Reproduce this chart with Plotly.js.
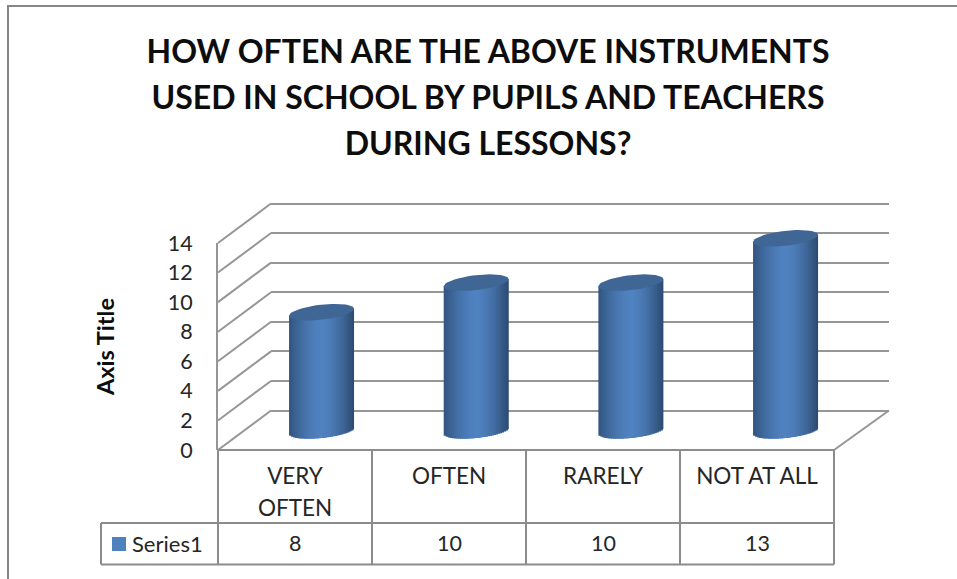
<!DOCTYPE html>
<html>
<head>
<meta charset="utf-8">
<script src="https://cdn.plot.ly/plotly-3.0.1.min.js"></script>
<style>html,body{margin:0;padding:0;background:#fff}#c{width:957px;height:579px}</style>
</head>
<body>
<div id="c"></div>
<script>
// ---- data ----
var categories = ["VERY<br>OFTEN", "OFTEN", "RARELY", "NOT AT ALL"];
var seriesName = "Series1";
var seriesValues = [8, 10, 10, 13];
var yTicks = [0, 2, 4, 6, 8, 10, 12, 14];
var titleLines = ["HOW OFTEN ARE THE ABOVE INSTRUMENTS", "USED IN SCHOOL BY PUPILS AND TEACHERS", "DURING LESSONS?"];

// ---- layout geometry (pixels) ----
var W = 957, H = 579;
var X = function (p) { return p / W; };
var Y = function (p) { return 1 - p / H; };
var FONT = "Lato, Carlito, Calibri, sans-serif";
var GRID = "#969696", LINE = "#8c8c8c", TXT = "#262626", KEY = "#4f81bd";
var FRONT = {x0: 218, x1: 834, y0: 450, y14: 243};
var BACK = {x0: 271, x1: 889, y0: 410.5, y14: 203.5};
var MID = {x0: 244.2, x1: 862.9, y0: 430.5, y14: 223.5};
var pxPerUnitY = (MID.y0 - MID.y14) / 14;
var pxPerUnitX = (MID.x1 - MID.x0) / 4;
var backUnit = (BACK.y0 - BACK.y14) / 14;

// ---- cylinder look ----
var HALF = 32.5, ELL = 7.5, TILT = 3.5, STRIPS = 32;
var CAP = "#3f6695";
function mix(a, b, t) {
  return "rgb(" + a.map(function (v, i) { return Math.round(v + (b[i] - v) * t); }).join(",") + ")";
}
var LEFT = [49, 84, 126], MIDC = [80, 130, 192], RIGHT = [43, 74, 111];
function stripColor(u) {
  return u < 0 ? mix(MIDC, LEFT, Math.pow(-u, 1.6)) : mix(MIDC, RIGHT, Math.pow(u, 1.6));
}

var traces = [];
// back wall (gridlines)
traces.push({type: "scatter", mode: "none", x: [0, 1, 2, 3], y: seriesValues, xaxis: "x", yaxis: "y", showlegend: false, hoverinfo: "skip"});
// the cylinders: overlapping vertical strips of a bar series, shaped at the foot
for (var k = 0; k < STRIPS; k++) {
  var stripPx = 2 * HALF / STRIPS;
  var u = -1 + (k + 0.5) * 2 / STRIPS;
  var s = Math.sqrt(1 - u * u);
  var foot = -(ELL * s - TILT * u) / pxPerUnitY;
  var headAdj = TILT * u / pxPerUnitY;
  traces.push({
    type: "bar", xaxis: "x2", yaxis: "y2",
    x: [0, 1, 2, 3],
    y: seriesValues.map(function (v) { return v + headAdj - foot; }),
    base: foot,
    width: (k === STRIPS - 1 ? stripPx : stripPx + 1.5) / pxPerUnitX,
    offset: (-HALF + k * stripPx) / pxPerUnitX,
    marker: {color: stripColor(u), line: {width: 0}},
    name: seriesName,
    showlegend: false,
    hoverinfo: "skip"
  });
}
// cylinder caps
seriesValues.forEach(function (v, i) {
  var xs = [], ys = [];
  for (var a = 0; a <= 60; a++) {
    var t = a / 60 * 2 * Math.PI;
    xs.push(i + HALF * Math.cos(t) / pxPerUnitX);
    ys.push(v + (TILT * Math.cos(t) + ELL * Math.sin(t)) / pxPerUnitY);
  }
  traces.push({type: "scatter", mode: "lines", x: xs, y: ys, fill: "toself", fillcolor: CAP,
    line: {width: 0, color: CAP}, xaxis: "x2", yaxis: "y2", showlegend: false, hoverinfo: "skip"});
});
// front axis (tick labels, table)
traces.push({type: "scatter", mode: "none", x: [0, 1, 2, 3], y: seriesValues, xaxis: "x3", yaxis: "y3", showlegend: false, hoverinfo: "skip"});

// ---- frame, walls and data-table rules ----
function seg(x0, y0, x1, y1, color, w) {
  return {type: "line", xref: "paper", yref: "paper", x0: X(x0), x1: X(x1), y0: Y(y0), y1: Y(y1),
    line: {color: color, width: w}, layer: "below"};
}
var shapes = [];
shapes.push({type: "rect", xref: "paper", yref: "paper", x0: X(8), x1: 1.02, y0: -0.02, y1: Y(6),
  line: {color: "#868686", width: 2}, fillcolor: "rgba(0,0,0,0)", layer: "below"});
yTicks.forEach(function (v) {
  var f = (FRONT.y0 - FRONT.y14) / 14;
  shapes.push(seg(FRONT.x0, FRONT.y0 - v * f, BACK.x0, BACK.y0 - v * backUnit, GRID, 2));
});
shapes.push(seg(FRONT.x1, FRONT.y0, BACK.x1, BACK.y0, GRID, 2));
var ROW1 = 523, ROW2 = 564.5, LEG = 101;
shapes.push(seg(FRONT.x0, FRONT.y0, FRONT.x1, FRONT.y0, LINE, 2));
shapes.push(seg(LEG, ROW1, FRONT.x1, ROW1, LINE, 2));
shapes.push(seg(LEG, ROW2, FRONT.x1, ROW2, LINE, 2));
shapes.push(seg(LEG, ROW1, LEG, ROW2, LINE, 2));
for (var c = 0; c <= categories.length; c++) {
  var cx = FRONT.x0 + c * (FRONT.x1 - FRONT.x0) / categories.length;
  shapes.push(seg(cx, FRONT.y0, cx, ROW2, LINE, 2));
}
// legend key inside the data table
shapes.push({type: "rect", xref: "paper", yref: "paper", x0: X(112), x1: X(126), y0: Y(551), y1: Y(537),
  line: {width: 0}, fillcolor: KEY, layer: "below"});

// ---- data-table values and series label ----
var annotations = seriesValues.map(function (v, i) {
  return {xref: "x3", yref: "paper", x: i, y: Y(543), text: String(v), showarrow: false,
    xanchor: "center", yanchor: "middle", font: {family: FONT, size: 21.5, color: TXT}};
});
annotations.push({xref: "paper", yref: "paper", x: X(130), y: Y(543), text: seriesName, showarrow: false,
  xanchor: "left", yanchor: "middle", font: {family: FONT, size: 22, color: TXT}});

var span = function (t, size) { return '<span style="font-size:' + size + 'px">' + t + "</span>"; };
var PAD = 0.2; // extra units so the 0 and 14 gridlines are kept
var layout = {
  width: W, height: H,
  margin: {l: 0, r: 0, t: 0, b: 0},
  paper_bgcolor: "#fff", plot_bgcolor: "rgba(0,0,0,0)",
  barmode: "overlay",
  showlegend: false,
  title: {
    text: titleLines.map(function (t) { return span(t, 32); }).join("<br>"),
    x: X(488), xanchor: "center", y: Y(63), yanchor: "top",
    font: {family: FONT, size: 35.4, color: "#0d0d0d", weight: 700}
  },
  xaxis: {domain: [X(BACK.x0), X(BACK.x1)], range: [-0.5, 3.5], visible: false, anchor: "y"},
  yaxis: {domain: [Y(BACK.y0 + PAD * backUnit), Y(BACK.y14 - PAD * backUnit)], range: [-PAD, 14 + PAD], anchor: "x", tickvals: yTicks, showticklabels: false,
    showgrid: true, gridcolor: GRID, gridwidth: 2, zeroline: false, showline: false, ticks: ""},
  xaxis2: {domain: [X(MID.x0), X(MID.x1)], range: [-0.5, 3.5], visible: false, anchor: "y2"},
  yaxis2: {domain: [Y(MID.y0 + pxPerUnitY), Y(MID.y14)], range: [-1, 14], visible: false, anchor: "x2"},
  xaxis3: {domain: [X(FRONT.x0), X(FRONT.x1)], range: [-0.5, 3.5], anchor: "y3", showgrid: false, zeroline: false, showline: false,
    tickmode: "array", tickvals: [0, 1, 2, 3],
    ticktext: categories.map(function (c) { return c.split("<br>").map(function (p) { return span(p, 22.5); }).join("<br>"); }),
    tickangle: 0, ticks: "", ticklabelstandoff: 8, tickfont: {family: FONT, size: 24.6, color: TXT}},
  yaxis3: {domain: [Y(FRONT.y0), Y(FRONT.y14)], range: [0, 14], anchor: "x3", tickmode: "array", tickvals: yTicks,
    showgrid: false, zeroline: false, showline: true, linecolor: GRID, linewidth: 2, ticks: "", ticklabelstandoff: 19,
    tickfont: {family: FONT, size: 21.5, color: TXT},
    title: {text: "Axis Title", standoff: 47, font: {family: FONT, size: 23.5, color: "#0d0d0d", weight: 700}}},
  shapes: shapes,
  annotations: annotations
};
Plotly.newPlot("c", traces, layout, {displayModeBar: false, responsive: false});
</script>
</body>
</html>
